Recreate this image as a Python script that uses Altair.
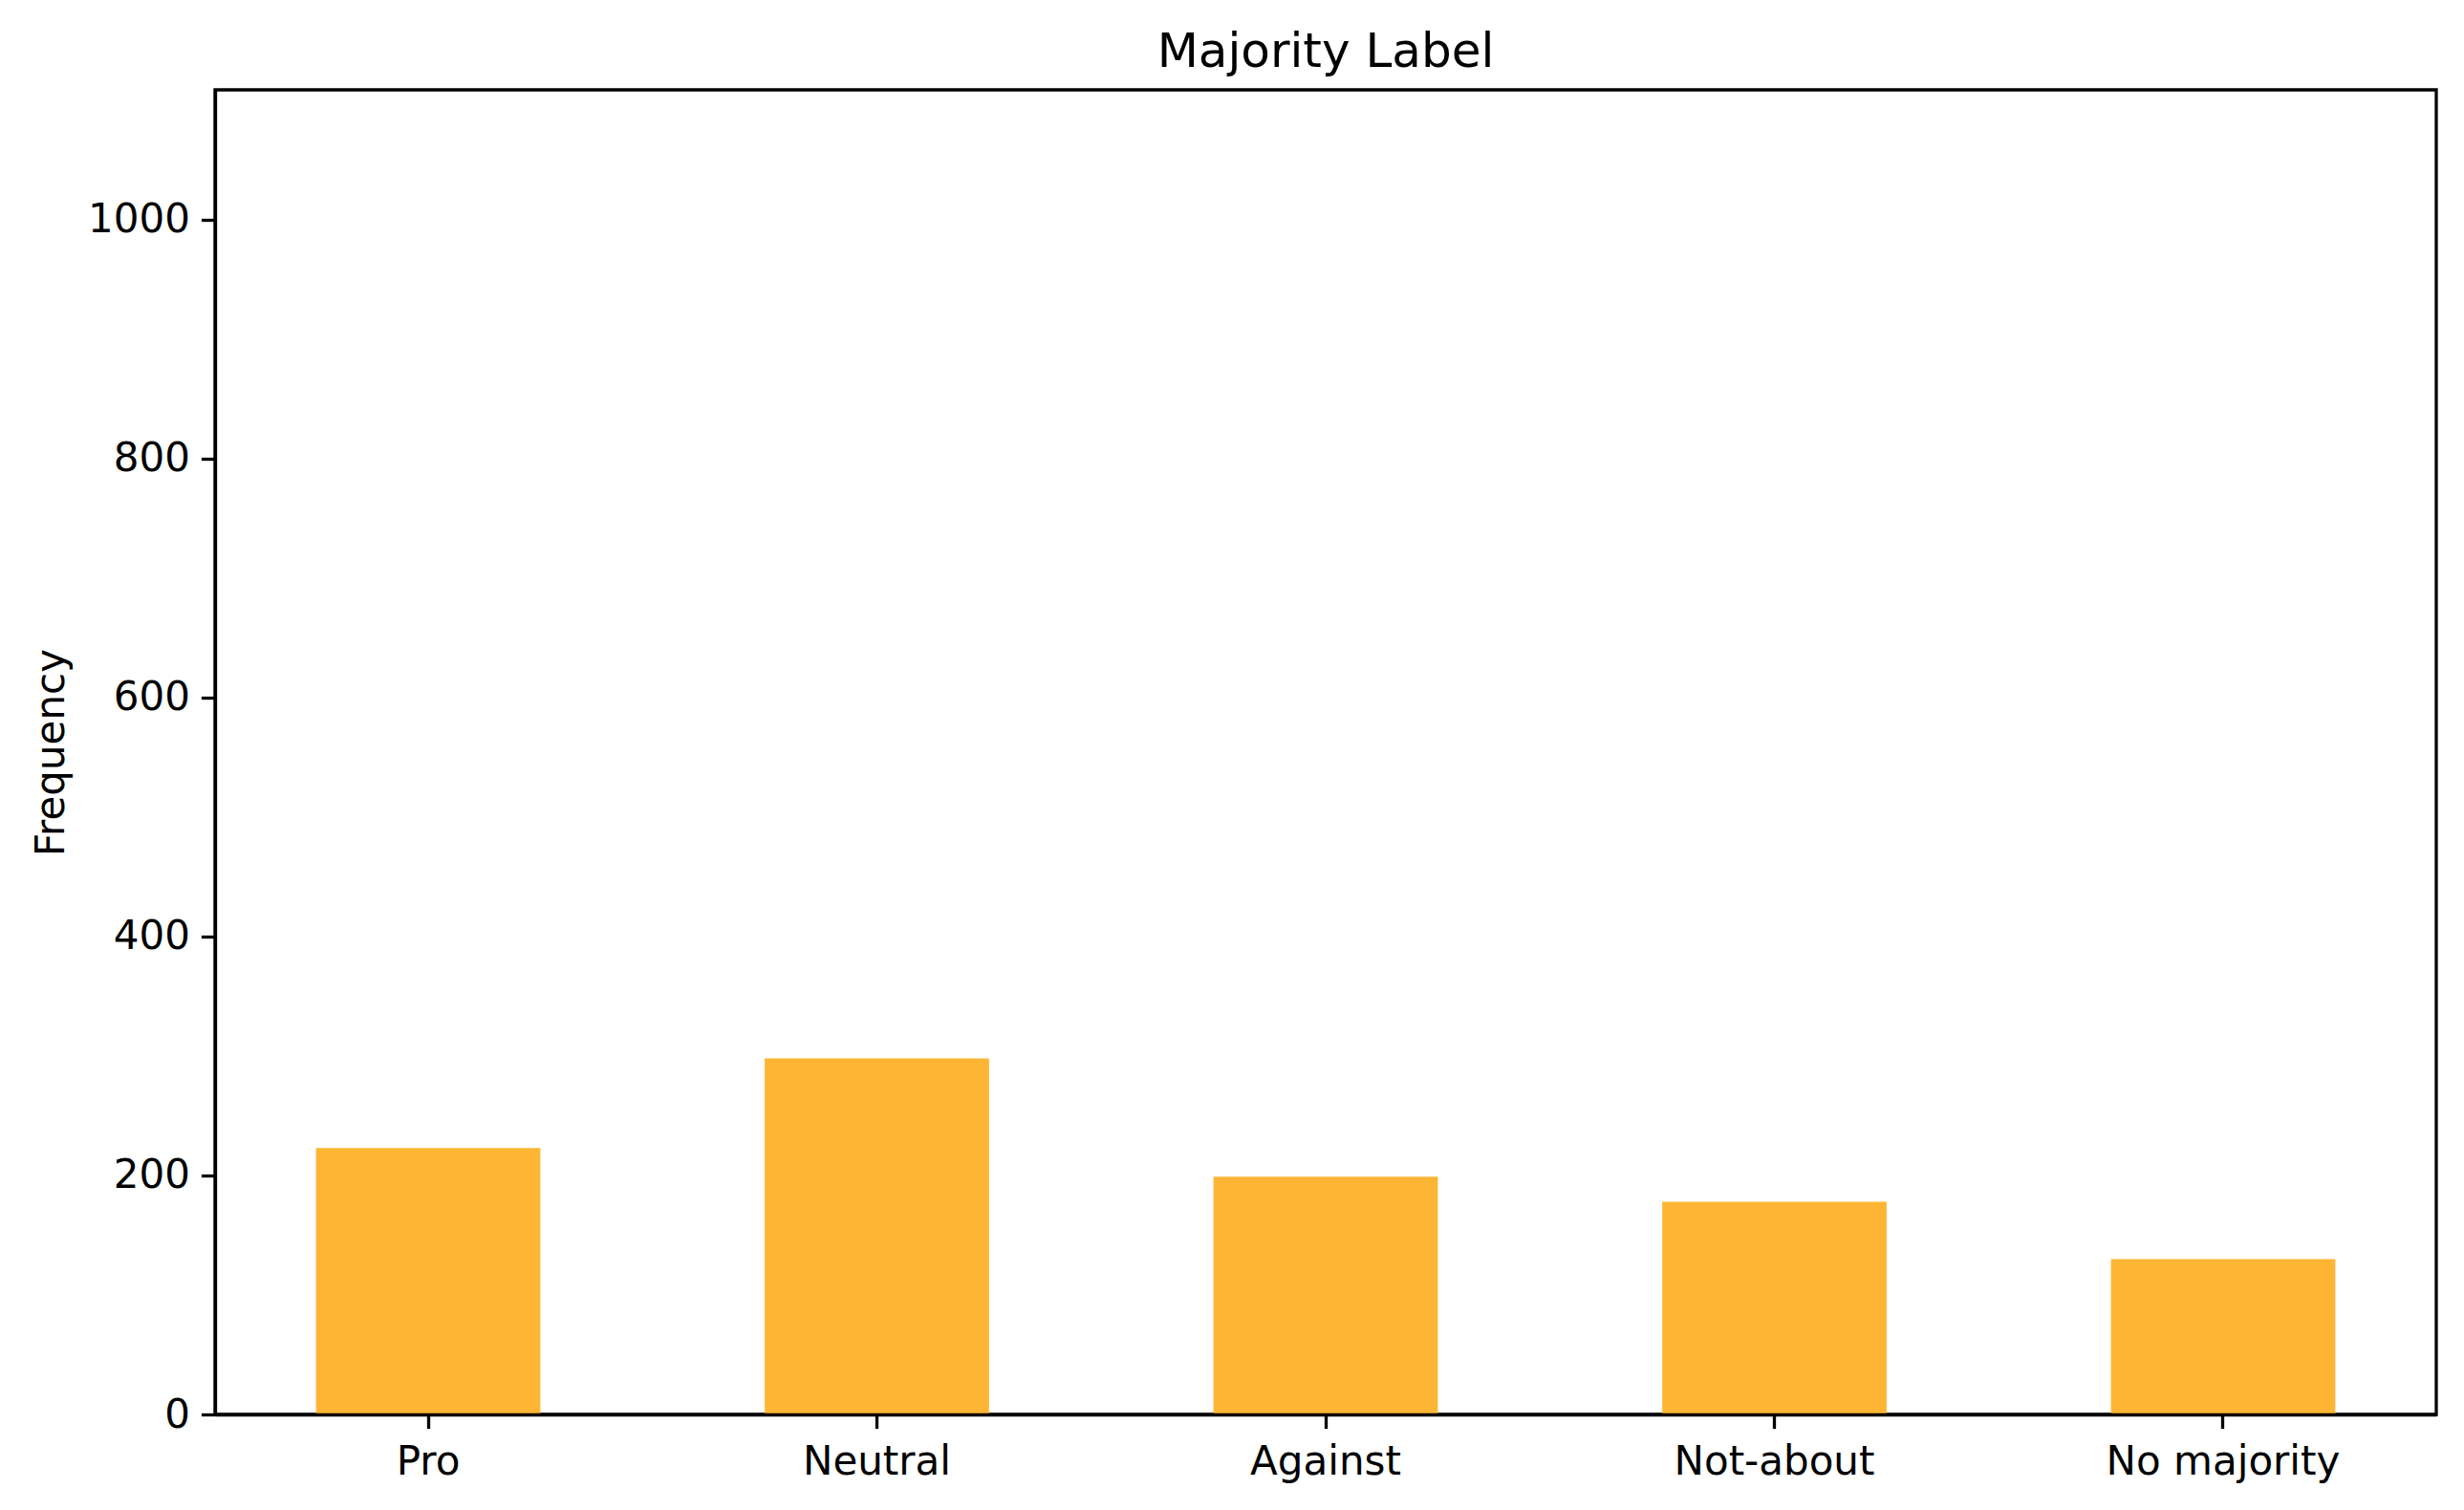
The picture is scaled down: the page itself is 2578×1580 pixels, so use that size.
import altair as alt
import pandas as pd

categories = ["Pro", "Neutral", "Against", "Not-about", "No majority"]
frequencies = [223, 298, 199, 178, 130]
y_ticks = [0, 200, 400, 600, 800, 1000]

df = pd.DataFrame({"label": categories, "freq": frequencies})

FONT = "DejaVu Sans"

chart = alt.Chart(df).mark_bar(color="#FEB533").encode(
    x=alt.X(
        "label:N",
        sort=categories,
        title=None,
        scale=alt.Scale(paddingInner=0.5, paddingOuter=0.225),
        axis=alt.Axis(
            labelAngle=0, labelFont=FONT, labelFontSize=42, labelColor="black",
            tickSize=14.6, tickWidth=3.3, tickColor="black", labelLimit=0,
            labelPadding=15, domainColor="black", domainWidth=3.3, zindex=2,
        ),
    ),
    y=alt.Y(
        "freq:Q",
        title="Frequency",
        scale=alt.Scale(domain=[0, 1108.5], nice=False, zero=True),
        axis=alt.Axis(
            values=y_ticks, format="d", grid=False, labelFont=FONT, labelFontSize=42,
            labelColor="black", tickSize=14.6, tickWidth=3.3, tickColor="black",
            labelPadding=12, domainColor="black", domainWidth=3.3, zindex=2,
            titleFont=FONT, titleFontSize=42, titleFontWeight="normal",
            titleColor="black", titlePadding=16,
        ),
    ),
).properties(
    width=2324,
    height=1386,
    title=alt.TitleParams(
        "Majority Label", font=FONT, fontSize=50, fontWeight="normal",
        color="black", anchor="middle", offset=-36, baseline="bottom",
    ),
    padding={"left": 24, "top": 22, "right": 20, "bottom": 10},
    background="white",
).configure_view(
    stroke="black", strokeWidth=3.3,
)

chart.save("out.html", embed_options={"renderer": "svg", "actions": False})
